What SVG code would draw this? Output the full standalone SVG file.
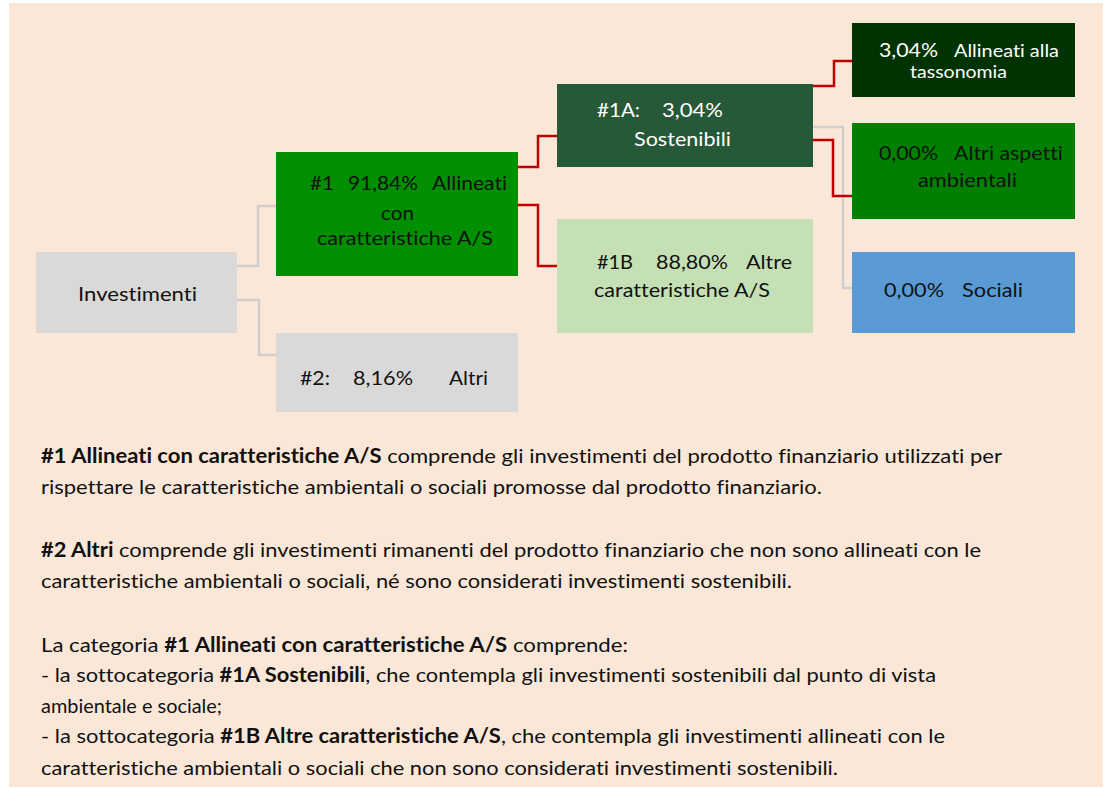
<svg xmlns="http://www.w3.org/2000/svg" width="1106" height="789" viewBox="0 0 1106 789">
<style>
  text { font-family: Lato, "Liberation Sans", sans-serif; fill: #111; font-variant-ligatures: none; }
  .n { font-size: 20px; }
  .s { font-size: 17px; }
  .w { fill: #fff; }
  .b { font-size: 20px; }
  .bd { font-weight: bold; }
  .cg { fill: none; stroke: #D0CECE; stroke-width: 2.5; }
  .cr { fill: none; stroke: #C00000; stroke-width: 2.5; }
</style>
<rect x="9" y="3" width="1094" height="784" fill="#FAE7D7"/>
<g id="connectors">
  <path class="cg" d="M237,266 H258 V206 H277"/>
  <path class="cg" d="M237,300 H259 V355 H283"/>
  <path class="cr" d="M518,167 H538 V136 H557"/>
  <path class="cr" d="M518,205 H538 V266 H559"/>
  <path class="cr" d="M813,86 H834 V61 H852"/>
  <path class="cg" d="M813,127 H843 V288 H852"/>
  <path class="cr" d="M813,140 H833 V196 H852"/>
</g>
<g id="investimenti">
  <rect x="36" y="252" width="201" height="81" fill="#D9D9D9"/>
  <text class="n" x="78" y="301" textLength="119" lengthAdjust="spacingAndGlyphs">Investimenti</text>
</g>
<g id="n1">
  <rect x="276" y="152" width="242" height="124" fill="#008F00"/>
  <text class="n" x="310" y="190" textLength="24" lengthAdjust="spacingAndGlyphs">#1</text>
  <text class="n" x="348" y="190" textLength="70" lengthAdjust="spacingAndGlyphs">91,84%</text>
  <text class="n" x="432" y="190" textLength="75" lengthAdjust="spacingAndGlyphs">Allineati</text>
  <text class="n" x="381" y="220" textLength="33" lengthAdjust="spacingAndGlyphs">con</text>
  <text class="n" x="317" y="245" textLength="176" lengthAdjust="spacingAndGlyphs">caratteristiche A/S</text>
</g>
<g id="n2">
  <rect x="276" y="333" width="242" height="79" fill="#D9D9D9"/>
  <text class="n" x="300" y="385" textLength="30" lengthAdjust="spacingAndGlyphs">#2:</text>
  <text class="n" x="353" y="385" textLength="60" lengthAdjust="spacingAndGlyphs">8,16%</text>
  <text class="n" x="449" y="385" textLength="39" lengthAdjust="spacingAndGlyphs">Altri</text>
</g>
<g id="n1a">
  <rect x="557" y="84" width="256" height="83" fill="#265938"/>
  <text class="n w" x="597" y="117" textLength="43" lengthAdjust="spacingAndGlyphs">#1A:</text>
  <text class="n w" x="662" y="117" textLength="61" lengthAdjust="spacingAndGlyphs">3,04%</text>
  <text class="n w" x="634" y="146" textLength="97" lengthAdjust="spacingAndGlyphs">Sostenibili</text>
</g>
<g id="n1b">
  <rect x="557" y="219" width="256" height="114" fill="#C5E0B4"/>
  <text class="n" x="597" y="269" textLength="36" lengthAdjust="spacingAndGlyphs">#1B</text>
  <text class="n" x="656" y="269" textLength="72" lengthAdjust="spacingAndGlyphs">88,80%</text>
  <text class="n" x="746" y="269" textLength="46" lengthAdjust="spacingAndGlyphs">Altre</text>
  <text class="n" x="594" y="297" textLength="176" lengthAdjust="spacingAndGlyphs">caratteristiche A/S</text>
</g>
<g id="tassonomia">
  <rect x="852" y="23" width="223" height="74" fill="#003300"/>
  <text class="n w" x="879" y="57" textLength="59" lengthAdjust="spacingAndGlyphs">3,04%</text>
  <text class="s w" x="954" y="57" textLength="105" lengthAdjust="spacingAndGlyphs">Allineati alla</text>
  <text class="s w" x="910" y="78" textLength="97" lengthAdjust="spacingAndGlyphs">tassonomia</text>
</g>
<g id="altri-aspetti">
  <rect x="852" y="123" width="223" height="96" fill="#007F00"/>
  <text class="n" x="879" y="160" textLength="59" lengthAdjust="spacingAndGlyphs">0,00%</text>
  <text class="n" x="954" y="160" textLength="109" lengthAdjust="spacingAndGlyphs">Altri aspetti</text>
  <text class="n" x="918" y="187" textLength="99" lengthAdjust="spacingAndGlyphs">ambientali</text>
</g>
<g id="sociali">
  <rect x="852" y="252" width="223" height="81" fill="#5B9BD5"/>
  <text class="n" x="884" y="297" textLength="60" lengthAdjust="spacingAndGlyphs">0,00%</text>
  <text class="n" x="962" y="297" textLength="61" lengthAdjust="spacingAndGlyphs">Sociali</text>
</g>
<g id="legend">
  <text class="b" x="41" y="463" textLength="961" lengthAdjust="spacingAndGlyphs"><tspan class="bd">#1 Allineati con caratteristiche A/S</tspan> comprende gli investimenti del prodotto finanziario utilizzati per</text>
  <text class="b" x="41" y="494" textLength="781" lengthAdjust="spacingAndGlyphs">rispettare le caratteristiche ambientali o sociali promosse dal prodotto finanziario.</text>
  <text class="b" x="41" y="557" textLength="940" lengthAdjust="spacingAndGlyphs"><tspan class="bd">#2 Altri</tspan> comprende gli investimenti rimanenti del prodotto finanziario che non sono allineati con le</text>
  <text class="b" x="41" y="588" textLength="751" lengthAdjust="spacingAndGlyphs">caratteristiche ambientali o sociali, né sono considerati investimenti sostenibili.</text>
  <text class="b" x="41" y="652" textLength="587" lengthAdjust="spacingAndGlyphs">La categoria <tspan class="bd">#1 Allineati con caratteristiche A/S</tspan> comprende:</text>
  <text class="b" x="41" y="682" textLength="895" lengthAdjust="spacingAndGlyphs">- la sottocategoria <tspan class="bd">#1A Sostenibili</tspan>, che contempla gli investimenti sostenibili dal punto di vista</text>
  <text class="b" x="41" y="713" textLength="181" lengthAdjust="spacingAndGlyphs">ambientale e sociale;</text>
  <text class="b" x="41" y="743" textLength="904" lengthAdjust="spacingAndGlyphs">- la sottocategoria <tspan class="bd">#1B Altre caratteristiche A/S</tspan>, che contempla gli investimenti allineati con le</text>
  <text class="b" x="41" y="775" textLength="797" lengthAdjust="spacingAndGlyphs">caratteristiche ambientali o sociali che non sono considerati investimenti sostenibili.</text>
</g>
</svg>
